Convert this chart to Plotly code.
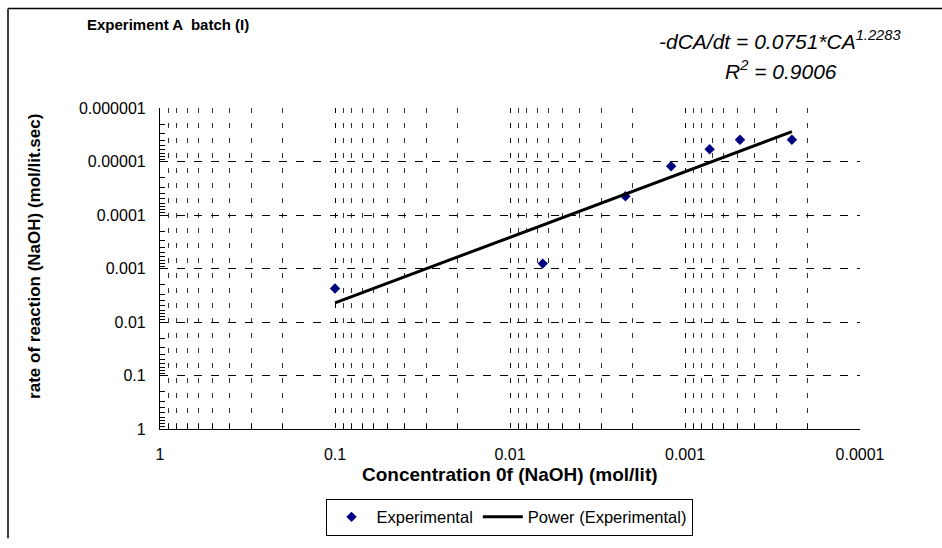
import plotly.graph_objects as go

# ---- data ----
conc = [0.1, 0.0065, 0.00219, 0.0012, 0.000723, 0.000485, 0.000245]
rate = [0.00236, 0.00081, 4.46e-5, 1.23e-5, 5.9e-6, 3.93e-6, 3.93e-6]

trend_conc = [0.1, 0.000245]
trend_rate = [0.0044, 2.76e-6]

x_tick_vals = [1, 0.1, 0.01, 0.001, 0.0001]
x_tick_text = ["1", "0.1", "0.01", "0.001", "0.0001"]
y_tick_vals = [0.000001, 0.00001, 0.0001, 0.001, 0.01, 0.1, 1]
y_tick_text = ["0.000001", "0.00001", "0.0001", "0.001", "0.01", "0.1", "1"]

# minor tick positions (2..9 in every decade)
x_minor = [m * 10.0 ** e for e in range(-4, 0) for m in range(2, 10)]
y_minor = [m * 10.0 ** e for e in range(-6, 0) for m in range(2, 10)]

W, H = 942, 548
L, R, T, B = 160, 82, 108, 108
PW, PH = W - L - R, H - T - B


def px(xp):
    return (xp - L) / PW


def py(yp):
    return (H - B - yp) / PH


FONT = "Liberation Sans, Arial, sans-serif"

fig = go.Figure()
fig.add_trace(go.Scatter(
    x=conc, y=rate, mode="markers", name="Experimental",
    marker=dict(symbol="diamond", size=8, color="#000080"),
))
fig.add_trace(go.Scatter(
    x=trend_conc, y=trend_rate, mode="lines", name="Power (Experimental)",
    line=dict(color="black", width=3),
))

fig.update_layout(
    width=W, height=H,
    margin=dict(l=L, r=R, t=T, b=B, pad=0),
    paper_bgcolor="white", plot_bgcolor="white",
    font=dict(family=FONT, size=16, color="black"),
    showlegend=True,
    legend=dict(
        orientation="h", x=px(509), xanchor="center", y=py(512), yanchor="top",
        bordercolor="black", borderwidth=1, font=dict(size=16.5, family=FONT),
        bgcolor="white", itemwidth=40,
    ),
)

fig.update_xaxes(
    type="log", range=[0, -4],
    tickmode="array", tickvals=x_tick_vals, ticktext=x_tick_text,
    ticks="", ticklabelstandoff=11,
    showline=True, linecolor="black", linewidth=1.2,
    showgrid=True, gridcolor="black", gridwidth=1, griddash="5px,10px",
    zeroline=False,
    minor=dict(tickmode="array", tickvals=x_minor, ticks="inside", ticklen=5,
               tickcolor="black", showgrid=True, gridcolor="#333333",
               gridwidth=1, griddash="5px,10px"),
    tickfont=dict(size=16, family=FONT),
)
fig.update_yaxes(
    type="log", range=[0, -6],
    tickmode="array", tickvals=y_tick_vals, ticktext=y_tick_text,
    ticks="", ticklabelstandoff=10,
    showline=True, linecolor="black", linewidth=1.2,
    showgrid=True, gridcolor="black", gridwidth=1, griddash="8px,9px",
    zeroline=False,
    minor=dict(tickmode="array", tickvals=y_minor, ticks="inside", ticklen=5,
               tickcolor="black", showgrid=False),
    tickfont=dict(size=16, family=FONT),
)

annotations = [
    dict(text="<b>Experiment A  batch (I)</b>", x=px(168), y=py(22),
         font=dict(size=15, family=FONT)),
    dict(text="<i>-dCA/dt = 0.0751*CA<sup>1.2283</sup></i>", x=px(780), y=py(38),
         font=dict(size=21, family=FONT)),
    dict(text="<i>R<sup>2</sup> = 0.9006</i>", x=px(781), y=py(69),
         font=dict(size=21, family=FONT)),
    dict(text="<b>Concentration 0f (NaOH) (mol/lit)</b>", x=px(510), y=py(487),
         font=dict(size=19, family=FONT)),
    dict(text="<b>rate of reaction (NaOH) (mol/lit.sec)</b>", x=px(35), y=py(262),
         textangle=-90, font=dict(size=17, family=FONT)),
]
for a in annotations:
    a.update(xref="paper", yref="paper", showarrow=False,
             xanchor="center", yanchor="middle")
fig.update_layout(annotations=annotations)

# outer chart frame (left and top edges visible in the reference)
fig.add_shape(type="line", xref="paper", yref="paper",
              x0=px(8), x1=px(8), y0=py(5), y1=py(H + 5),
              line=dict(color="black", width=1.5))
fig.add_shape(type="line", xref="paper", yref="paper",
              x0=px(8), x1=px(W + 5), y0=py(5), y1=py(5),
              line=dict(color="black", width=1.5))

fig.write_html("out.html")
